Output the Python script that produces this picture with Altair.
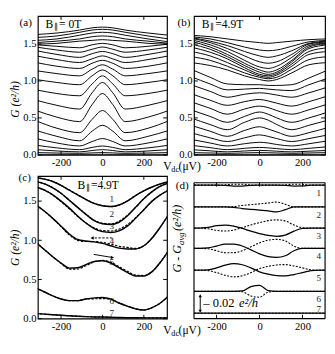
import altair as alt
import pandas as pd

FONT = "Liberation Serif"

# ---------------- panel (a): B|| = 0 T ----------------
V_A = [-320, -220, -110, -50, 0, 50, 110, 220, 320]
A_CURVES = [
    [0.005, 0.005, 0.004, 0.005, 0.006, 0.005, 0.004, 0.005, 0.005],
    [0.03, 0.024, 0.02, 0.026, 0.03, 0.026, 0.02, 0.024, 0.03],
    [0.07, 0.052, 0.04, 0.058, 0.07, 0.058, 0.04, 0.052, 0.07],
    [0.13, 0.094, 0.07, 0.10, 0.12, 0.10, 0.07, 0.094, 0.13],
    [0.22, 0.16, 0.12, 0.18, 0.22, 0.18, 0.12, 0.16, 0.22],
    [0.33, 0.25, 0.19, 0.32, 0.40, 0.32, 0.19, 0.25, 0.33],
    [0.46, 0.36, 0.30, 0.48, 0.60, 0.48, 0.30, 0.36, 0.46],
    [0.60, 0.51, 0.45, 0.68, 0.83, 0.68, 0.45, 0.51, 0.60],
    [0.74, 0.67, 0.62, 0.84, 0.98, 0.84, 0.62, 0.67, 0.74],
    [0.88, 0.83, 0.80, 0.96, 1.07, 0.96, 0.80, 0.83, 0.88],
    [1.02, 0.98, 0.95, 1.07, 1.15, 1.07, 0.95, 0.98, 1.02],
    [1.14, 1.10, 1.07, 1.16, 1.22, 1.16, 1.07, 1.10, 1.14],
    [1.25, 1.20, 1.17, 1.24, 1.28, 1.24, 1.17, 1.20, 1.25],
    [1.34, 1.29, 1.25, 1.30, 1.34, 1.30, 1.25, 1.29, 1.34],
    [1.41, 1.36, 1.32, 1.37, 1.40, 1.37, 1.32, 1.36, 1.41],
    [1.46, 1.42, 1.39, 1.43, 1.46, 1.43, 1.39, 1.42, 1.46],
    [1.49, 1.47, 1.45, 1.49, 1.51, 1.49, 1.45, 1.47, 1.50],
    [1.50, 1.51, 1.54, 1.55, 1.56, 1.55, 1.54, 1.51, 1.50],
    [1.52, 1.54, 1.57, 1.60, 1.61, 1.60, 1.57, 1.54, 1.51],
    [1.55, 1.57, 1.62, 1.65, 1.66, 1.65, 1.62, 1.57, 1.53],
    [1.59, 1.61, 1.66, 1.69, 1.70, 1.69, 1.66, 1.61, 1.57],
    [1.63, 1.65, 1.69, 1.72, 1.73, 1.72, 1.69, 1.65, 1.62],
]

# ---------------- panel (b): B|| = 4.9 T ----------------
V_B = [-320, -230, -150, -70, 0, 40, 80, 150, 230, 320]
B_CURVES = [
    [0.005, 0.005, 0.004, 0.005, 0.005, 0.005, 0.005, 0.004, 0.005, 0.005],
    [0.03, 0.025, 0.02, 0.026, 0.03, 0.028, 0.025, 0.02, 0.025, 0.03],
    [0.07, 0.054, 0.04, 0.052, 0.06, 0.056, 0.049, 0.04, 0.049, 0.06],
    [0.13, 0.097, 0.07, 0.088, 0.10, 0.094, 0.084, 0.07, 0.088, 0.11],
    [0.21, 0.16, 0.12, 0.15, 0.17, 0.16, 0.14, 0.12, 0.15, 0.19],
    [0.30, 0.23, 0.18, 0.23, 0.27, 0.25, 0.22, 0.18, 0.22, 0.27],
    [0.40, 0.32, 0.25, 0.33, 0.38, 0.35, 0.31, 0.25, 0.30, 0.37],
    [0.50, 0.41, 0.34, 0.44, 0.50, 0.47, 0.41, 0.34, 0.40, 0.47],
    [0.61, 0.52, 0.44, 0.52, 0.58, 0.55, 0.50, 0.44, 0.50, 0.58],
    [0.72, 0.63, 0.55, 0.62, 0.66, 0.64, 0.60, 0.55, 0.61, 0.69],
    [0.83, 0.74, 0.67, 0.72, 0.75, 0.73, 0.70, 0.66, 0.72, 0.80],
    [0.95, 0.86, 0.78, 0.82, 0.84, 0.83, 0.81, 0.78, 0.84, 0.92],
    [1.06, 0.96, 0.88, 0.89, 0.90, 0.89, 0.88, 0.87, 0.95, 1.04],
    [1.16, 1.05, 0.96, 0.95, 0.95, 0.94, 0.94, 0.95, 1.04, 1.15],
    [1.25, 1.21, 1.15, 1.07, 1.02, 1.00, 1.02, 1.11, 1.22, 1.25],
    [1.33, 1.28, 1.20, 1.11, 1.05, 1.03, 1.05, 1.16, 1.29, 1.33],
    [1.40, 1.34, 1.25, 1.15, 1.07, 1.05, 1.08, 1.20, 1.36, 1.40],
    [1.46, 1.39, 1.30, 1.18, 1.09, 1.07, 1.10, 1.23, 1.40, 1.45],
    [1.50, 1.43, 1.33, 1.21, 1.12, 1.09, 1.12, 1.26, 1.44, 1.49],
    [1.54, 1.46, 1.36, 1.24, 1.15, 1.12, 1.15, 1.28, 1.46, 1.51],
    [1.56, 1.49, 1.40, 1.28, 1.19, 1.17, 1.20, 1.32, 1.48, 1.52],
    [1.58, 1.52, 1.44, 1.34, 1.26, 1.24, 1.26, 1.36, 1.50, 1.53],
    [1.59, 1.54, 1.48, 1.40, 1.34, 1.32, 1.34, 1.41, 1.51, 1.54],
    [1.60, 1.57, 1.52, 1.46, 1.42, 1.41, 1.42, 1.47, 1.53, 1.55],
    [1.62, 1.60, 1.57, 1.54, 1.52, 1.51, 1.52, 1.54, 1.56, 1.57],
]

# ---------------- panels (c) and (d) ----------------
V_CD = [-320, -280, -240, -200, -160, -120, -80, -40, 0, 40, 80, 120, 160, 200, 240, 280, 320]
C_SOLID = [
    [1.80, 1.78, 1.75, 1.70, 1.64, 1.58, 1.52, 1.47, 1.44, 1.43, 1.45, 1.50, 1.57, 1.63, 1.68, 1.72, 1.75],
    [1.75, 1.72, 1.67, 1.60, 1.51, 1.42, 1.33, 1.25, 1.21, 1.20, 1.23, 1.31, 1.42, 1.53, 1.62, 1.69, 1.73],
    [1.68, 1.64, 1.58, 1.50, 1.41, 1.31, 1.22, 1.15, 1.11, 1.10, 1.12, 1.18, 1.28, 1.39, 1.50, 1.58, 1.64],
    [1.45, 1.37, 1.28, 1.18, 1.08, 1.01, 0.99, 0.98, 0.96, 0.93, 0.90, 0.89, 0.89, 0.93, 1.03, 1.17, 1.33],
    [0.97, 0.88, 0.79, 0.71, 0.645, 0.65, 0.69, 0.73, 0.74, 0.71, 0.65, 0.59, 0.545, 0.545, 0.60, 0.72, 0.87],
    [0.39, 0.34, 0.29, 0.25, 0.23, 0.23, 0.25, 0.265, 0.27, 0.25, 0.20, 0.16, 0.125, 0.11, 0.14, 0.20, 0.29],
    [0.065, 0.058, 0.05, 0.043, 0.037, 0.031, 0.026, 0.022, 0.02, 0.017, 0.014, 0.012, 0.011, 0.01, 0.01, 0.01, 0.01],
]
# deviation of the solid sweep from the average (e^2/h); dashed sweep = -deviation
D_DEV = [
    [0, 0, 0, 0, -0.0003, -0.0012, -0.0012, -0.0002, 0, 0, 0, -0.0003, -0.0012, -0.001, 0, 0, 0],
    [0, 0, 0, 0, 0, -0.0005, -0.002, -0.003, -0.004, -0.005, -0.0063, -0.0035, 0, 0, 0, 0, 0],
    [0, 0, 0.001, 0.003, 0.0038, 0.0025, -0.0005, -0.004, -0.007, -0.0095, -0.0105, -0.009, -0.004, -0.0005, 0, 0, 0],
    [0, 0, 0.0005, 0.003, 0.0055, 0.0055, 0.003, -0.002, -0.007, -0.0105, -0.0115, -0.0095, -0.003, 0, 0, 0, 0],
    [0, 0, 0.0005, 0.003, 0.0065, 0.0085, 0.007, 0.003, -0.002, -0.005, -0.0068, -0.0072, -0.0055, -0.003, -0.0005, 0, 0],
    [0, 0, 0, 0, 0, 0, 0.0005, 0.006, 0.0075, 0.001, 0, 0, 0, 0, 0, 0, 0],
    [0] * 17,
]
D_BASE = [0.171, 0.143, 0.116, 0.090, 0.062, 0.035, 0.007]
CURVE_NAMES = ["1", "2", "3", "4", "5", "6", "7"]
C_LABEL_G = [1.52, 1.34, 1.18, 0.99, 0.72, 0.23, 0.07]
C_LABEL_V = 45
D_LABEL_V = 276
ARROW_DASHED = {"V": [48], "V2": [-50], "G": [1.03], "G2": [1.03]}
ARROW_SOLID = {"V": [-42], "V2": [48], "G": [0.82], "G2": [0.78]}
SCALE_BAR_V = -276
SCALE_BAR_G = [0.0094, 0.0294]
X_TICKS = [-200, 0, 200]
Y_TICKS = [0.0, 0.5, 1.0, 1.5]

# ---------------- geometry ----------------
WL, WR = 134, 136
HT, HC = 144, 148
D_TOP = 7  # panel (d) frame starts lower than panel (c)
D_TOP_VALUE = 0.174 * HC / (HC - D_TOP)


def long_df(vgrid, curves, prefix):
    rows = []
    for i, ys in enumerate(curves):
        for v, g in zip(vgrid, ys):
            rows.append({"V": v, "G": g, "curve": f"{prefix}{i:02d}"})
    return pd.DataFrame(rows)


def x_axis():
    return alt.Axis(values=X_TICKS, labelExpr="'' + datum.value", title=None, grid=False,
                    domain=False, ticks=False, tickSize=0, labelPadding=2, labelFont=FONT,
                    labelFontSize=11, labelColor="black", labelFlush=False)


def y_axis(title=None, title_y=None):
    kw = dict(values=Y_TICKS, format=".1f", title=title, grid=False, domain=False, ticks=False,
              tickSize=0, labelPadding=2, labelFont=FONT, labelFontSize=11, labelColor="black",
              labelFlush=False, titleFont=FONT, titleFontSize=12, titleFontStyle="italic",
              titleFontWeight="normal", titleColor="black", titlePadding=1)
    if title_y is not None:
        kw["titleY"] = title_y
    return alt.Axis(**kw)


def txt(s, x, y, size=12, style="normal", align="left", angle=0, color="black"):
    return alt.Chart(pd.DataFrame({"t": [s]})).mark_text(
        align=align, baseline="middle", font=FONT, fontSize=size, fontStyle=style,
        color=color, angle=angle).encode(x=alt.value(x), y=alt.value(y), text="t:N")


def ticks(X, Y, w, h, yt=True, top=0, L=4):
    dx = pd.DataFrame({"V": X_TICKS})
    out = [
        alt.Chart(dx).mark_rule(color="black", strokeWidth=1).encode(x=X, y=alt.value(h), y2=alt.value(h - L)),
        alt.Chart(dx).mark_rule(color="black", strokeWidth=1).encode(x=X, y=alt.value(top), y2=alt.value(top + L)),
    ]
    if yt:
        dy = pd.DataFrame({"G": Y_TICKS})
        out += [
            alt.Chart(dy).mark_rule(color="black", strokeWidth=1).encode(y=Y, x=alt.value(0), x2=alt.value(L)),
            alt.Chart(dy).mark_rule(color="black", strokeWidth=1).encode(y=Y, x=alt.value(w), x2=alt.value(w - L)),
        ]
    return out


def frame(w, h, top):
    one = pd.DataFrame({"k": [0]})
    r = dict(color="black", strokeWidth=1.2)
    return [
        alt.Chart(one).mark_rule(**r).encode(x=alt.value(0), x2=alt.value(w), y=alt.value(top)),
        alt.Chart(one).mark_rule(**r).encode(x=alt.value(0), x2=alt.value(w), y=alt.value(h)),
        alt.Chart(one).mark_rule(**r).encode(x=alt.value(0), y=alt.value(top), y2=alt.value(h)),
        alt.Chart(one).mark_rule(**r).encode(x=alt.value(w), y=alt.value(top), y2=alt.value(h)),
    ]


def b_label(x, y, rest):
    return [txt("B", x, y, 12), txt("∥", x + 8.5, y + 3, 8), txt(rest, x + 14, y, 12)]


def vdc_title(w, h):
    return [txt("V", w - 4, h + 12, 12), txt("dc", w + 4.5, h + 15, 8.5), txt("(μV)", w + 12, h + 12, 12)]


Xl = alt.X("V:Q", scale=alt.Scale(domain=[-312, 312], nice=False, zero=False), axis=x_axis())
Xr = alt.X("V:Q", scale=alt.Scale(domain=[-305, 305], nice=False, zero=False), axis=x_axis())
Ya = alt.Y("G:Q", scale=alt.Scale(domain=[0, 1.88], nice=False, zero=False), axis=y_axis("G (e²/h)", 86))
Yb = alt.Y("G:Q", scale=alt.Scale(domain=[0, 1.88], nice=False, zero=False), axis=y_axis(None))
Yc = alt.Y("G:Q", scale=alt.Scale(domain=[0, 1.82], nice=False, zero=False), axis=y_axis("G (e²/h)"))
Yd = alt.Y("G:Q", scale=alt.Scale(domain=[0, D_TOP_VALUE], nice=False, zero=False), axis=None)

# ----- (a) -----
lines_a = alt.Chart(long_df(V_A, A_CURVES, "a")).mark_line(
    interpolate="monotone", color="black", strokeWidth=1.0, clip=True).encode(x=Xl, y=Ya, detail="curve:N")
panel_a = alt.layer(
    lines_a, *ticks(Xl, Ya, WL, HT), txt("(a)", -19, 7.5, 11.5),
    *b_label(8, 8, "= 0T"), *vdc_title(WL, HT)
).properties(width=WL, height=HT)

# ----- (b) -----
lines_b = alt.Chart(long_df(V_B, B_CURVES, "b")).mark_line(
    interpolate="monotone", color="black", strokeWidth=1.0, clip=True).encode(x=Xr, y=Yb, detail="curve:N")
panel_b = alt.layer(
    lines_b, *ticks(Xr, Yb, WR, HT), txt("(b)", -17, 7.5, 11.5), *b_label(8, 8, "=4.9T")
).properties(width=WR, height=HT)

# ----- (c) -----
c_rows, c_dash_rows, d_rows, d_dash_rows = [], [], [], []
for i in range(7):
    for j, v in enumerate(V_CD):
        s = C_SOLID[i][j]
        dv = D_DEV[i][j]
        c_rows.append({"V": v, "G": s, "curve": CURVE_NAMES[i]})
        c_dash_rows.append({"V": v, "G": s - 2 * dv, "curve": CURVE_NAMES[i]})
        d_rows.append({"V": v, "G": D_BASE[i] + dv, "curve": CURVE_NAMES[i]})
        d_dash_rows.append({"V": v, "G": D_BASE[i] - dv, "curve": CURVE_NAMES[i]})

c_solid = alt.Chart(pd.DataFrame(c_rows)).mark_line(
    interpolate="monotone", color="black", strokeWidth=1.5, clip=True).encode(x=Xl, y=Yc, detail="curve:N")
c_dash = alt.Chart(pd.DataFrame(c_dash_rows)).mark_line(
    interpolate="monotone", color="black", strokeWidth=1.2, strokeDash=[2.5, 1.5], clip=True).encode(
    x=Xl, y=Yc, detail="curve:N")
c_labels = alt.Chart(pd.DataFrame({"V": [C_LABEL_V] * 7, "G": C_LABEL_G, "t": CURVE_NAMES})).mark_text(
    font=FONT, fontSize=9.5, color="#222").encode(x=Xl, y=Yc, text="t:N")
arr_d = alt.Chart(pd.DataFrame(ARROW_DASHED)).mark_rule(color="black", strokeWidth=1, strokeDash=[2.5, 1.5]).encode(
    x=Xl, x2="V2:Q", y=Yc, y2="G2:Q")
arr_d_head = alt.Chart(pd.DataFrame({"V": ARROW_DASHED["V2"], "G": ARROW_DASHED["G2"]})).mark_point(
    shape="triangle-left", filled=True, color="black", size=14, opacity=1).encode(x=Xl, y=Yc)
arr_s = alt.Chart(pd.DataFrame(ARROW_SOLID)).mark_rule(color="black", strokeWidth=1).encode(
    x=Xl, x2="V2:Q", y=Yc, y2="G2:Q")
arr_s_head = alt.Chart(pd.DataFrame({"V": ARROW_SOLID["V2"], "G": ARROW_SOLID["G2"]})).mark_point(
    shape="triangle-right", filled=True, color="black", size=14, opacity=1).encode(x=Xl, y=Yc)
panel_c = alt.layer(
    c_solid, c_dash, c_labels, arr_d, arr_d_head, arr_s, arr_s_head,
    *ticks(Xl, Yc, WL, HC), txt("(c)", -20, 2.5, 11.5), *b_label(41, 9, "=4.9T"), *vdc_title(WL, HC)
).properties(width=WL, height=HC)

# ----- (d) -----
d_solid = alt.Chart(pd.DataFrame(d_rows)).mark_line(
    interpolate="monotone", color="black", strokeWidth=1.3, clip=True).encode(x=Xr, y=Yd, detail="curve:N")
d_dash = alt.Chart(pd.DataFrame(d_dash_rows)).mark_line(
    interpolate="monotone", color="black", strokeWidth=1.1, strokeDash=[2, 1.5], clip=True).encode(
    x=Xr, y=Yd, detail="curve:N")
d_lab1 = alt.Chart(pd.DataFrame({"V": [D_LABEL_V] * 6, "G": D_BASE[:6], "t": CURVE_NAMES[:6]})).mark_text(
    font=FONT, fontSize=9.5, color="#222", dy=8).encode(x=Xr, y=Yd, text="t:N")
d_lab7 = alt.Chart(pd.DataFrame({"V": [D_LABEL_V], "G": D_BASE[6:], "t": CURVE_NAMES[6:]})).mark_text(
    font=FONT, fontSize=9.5, color="#222", dy=-4).encode(x=Xr, y=Yd, text="t:N")
bar = alt.Chart(pd.DataFrame({"V": [SCALE_BAR_V], "G": [SCALE_BAR_G[0]], "G2": [SCALE_BAR_G[1]]})).mark_rule(
    color="black", strokeWidth=1).encode(x=Xr, y=Yd, y2="G2:Q")
bar_up = alt.Chart(pd.DataFrame({"V": [SCALE_BAR_V], "G": [SCALE_BAR_G[1]]})).mark_point(
    shape="triangle-up", filled=True, color="black", size=12, opacity=1).encode(x=Xr, y=Yd)
bar_dn = alt.Chart(pd.DataFrame({"V": [SCALE_BAR_V], "G": [SCALE_BAR_G[0]]})).mark_point(
    shape="triangle-down", filled=True, color="black", size=12, opacity=1).encode(x=Xr, y=Yd)
mid = (SCALE_BAR_G[0] + SCALE_BAR_G[1]) / 2
bar_txt = alt.Chart(pd.DataFrame({"V": [SCALE_BAR_V + 14], "G": [mid], "t": ["– 0.02"]})).mark_text(
    align="left", baseline="middle", font=FONT, fontSize=13, color="black").encode(x=Xr, y=Yd, text="t:N")
bar_unit = alt.Chart(pd.DataFrame({"V": [SCALE_BAR_V + 14], "G": [mid], "t": ["e²/h"]})).mark_text(
    align="left", baseline="middle", font=FONT, fontSize=13, fontStyle="italic", color="black", dx=37).encode(
    x=Xr, y=Yd, text="t:N")
panel_d = alt.layer(
    d_solid, d_dash, d_lab1, d_lab7, bar, bar_up, bar_dn, bar_txt, bar_unit,
    *frame(WR, HC, D_TOP), *ticks(Xr, Yd, WR, HC, yt=False, top=D_TOP),
    txt("(d)", -19, D_TOP + 3, 11.5),
    txt("G - G", -17, D_TOP + 93, 12.5, "italic", angle=270),
    txt("avg", -13.5, D_TOP + 64.5, 9, "italic", angle=270),
    txt("(e²/h)", -17, D_TOP + 50, 12.5, "italic", angle=270),
).properties(width=WR, height=HC, view=alt.ViewBackground(stroke="transparent"))

chart = alt.concat(
    panel_a, panel_b, panel_c, panel_d, columns=2, spacing={"row": 22, "column": 28}, bounds="flush"
).properties(padding=0).configure_view(stroke="black", strokeWidth=1.2)

chart.save("out.html", embed_options={"renderer": "svg", "actions": False})
